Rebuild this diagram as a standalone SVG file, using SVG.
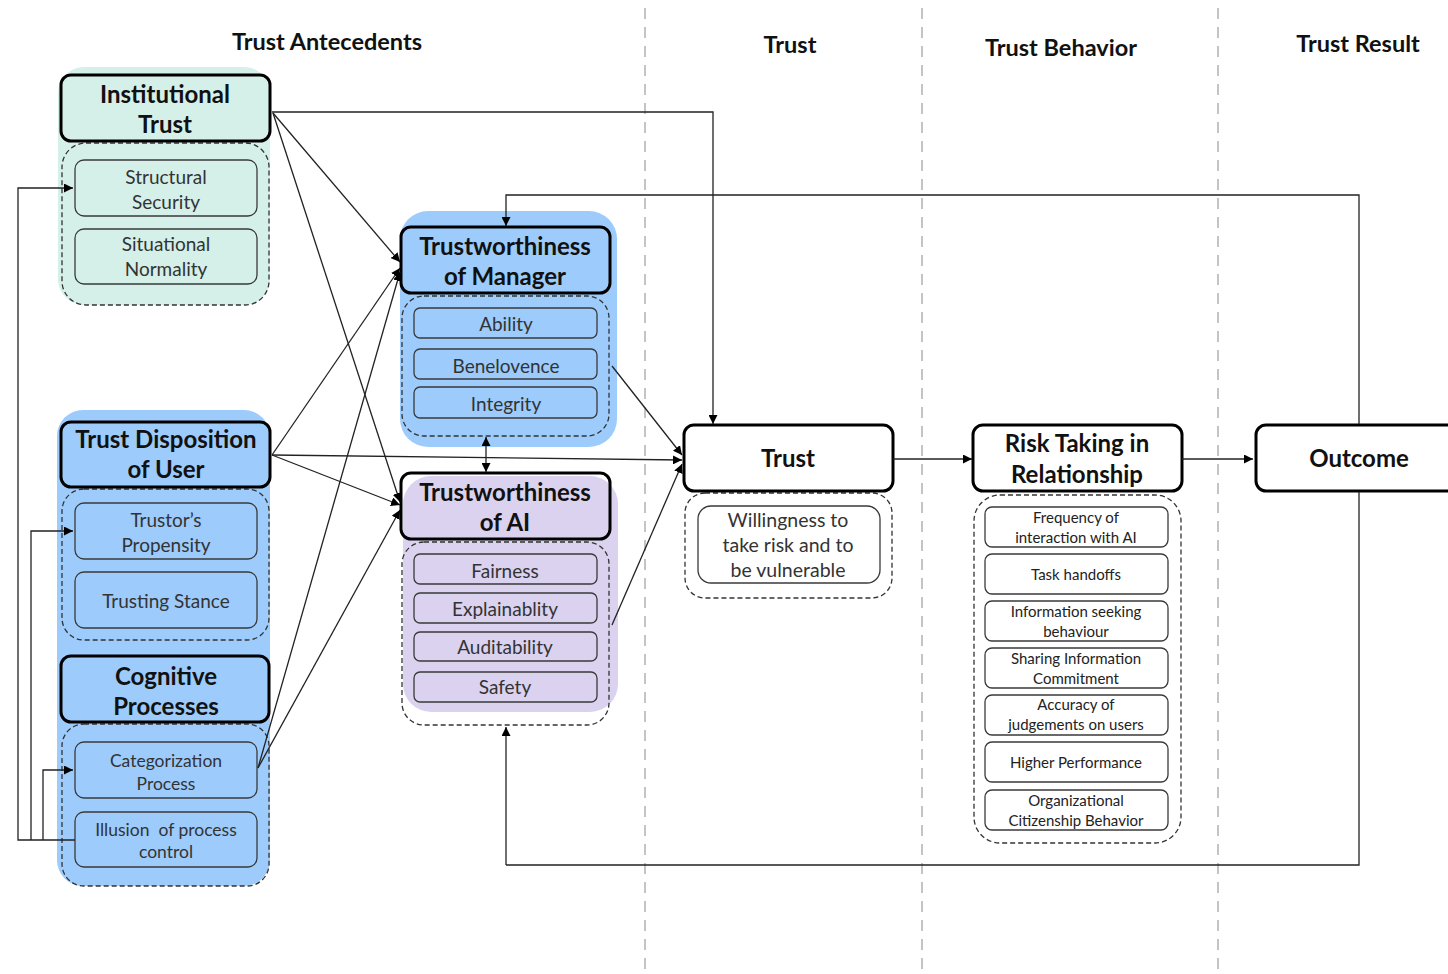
<svg xmlns="http://www.w3.org/2000/svg" width="1448" height="974" viewBox="0 0 1448 974">
<defs>
<marker id="ah" viewBox="0 0 10 10" refX="10" refY="5" markerWidth="9" markerHeight="9" markerUnits="userSpaceOnUse" orient="auto-start-reverse">
<path d="M0,0 L10,5 L0,10 z" fill="#000"/>
</marker>
<style>
text{font-family:Lato,"Open Sans","Liberation Sans",sans-serif;text-anchor:middle;dominant-baseline:central}
.h{font-weight:bold;font-size:24px;fill:#111}
.col{font-weight:bold;font-size:23.5px;fill:#111}
.t{font-size:19px;fill:#333}
.s{font-size:15px;fill:#222}
.hb{stroke:#000;stroke-width:3;fill:none}
.ib{stroke:#3a3a3a;stroke-width:1.3;fill:none}
.dc{stroke:#333;stroke-width:1.3;stroke-dasharray:5 3;fill:none}
.sep{stroke:#c4c4c4;stroke-width:2;stroke-dasharray:11 8}
.c{stroke:#222;stroke-width:1.3;fill:none}
.a{marker-end:url(#ah)}
</style>
</defs>
<rect width="1448" height="974" fill="#fff"/>
<g id="separators">
<line class="sep" x1="645" y1="8" x2="645" y2="974"/>
<line class="sep" x1="922" y1="8" x2="922" y2="974"/>
<line class="sep" x1="1218" y1="8" x2="1218" y2="974"/>
</g>
<g id="column-headers">
<text class="col" x="327" y="41">Trust Antecedents</text>
<text class="col" x="790" y="44">Trust</text>
<text class="col" x="1061" y="47">Trust Behavior</text>
<text class="col" x="1358" y="43">Trust Result</text>
</g>
<g id="institutional-trust">
<rect x="58" y="67" width="212" height="238" rx="26" fill="#d5efe9"/>
<rect class="dc" x="62" y="143" width="207" height="162" rx="24"/>
<rect x="61" y="75" width="209" height="66" rx="10" fill="#d5efe9" class="hb"/>
<text class="h" x="165" y="93">Institutional</text>
<text class="h" x="165" y="123">Trust</text>
<rect class="ib" x="75" y="160" width="182" height="56" rx="9"/>
<text class="t" x="166" y="176">Structural</text>
<text class="t" x="166" y="201">Security</text>
<rect class="ib" x="75" y="229" width="182" height="55" rx="9"/>
<text class="t" x="166" y="243">Situational</text>
<text class="t" x="166" y="268">Normality</text>
</g>
<g id="trust-disposition">
<rect x="57" y="410" width="213" height="476" rx="26" fill="#9ccbfc"/>
<rect class="dc" x="62" y="489" width="207" height="151" rx="22"/>
<rect x="61" y="422" width="209" height="65" rx="10" fill="#9ccbfc" class="hb"/>
<text class="h" x="166" y="438">Trust Disposition</text>
<text class="h" x="166" y="468">of User</text>
<rect class="ib" x="75" y="503" width="182" height="56" rx="9"/>
<text class="t" x="166" y="519">Trustor’s</text>
<text class="t" x="166" y="544">Propensity</text>
<rect class="ib" x="75" y="572" width="182" height="56" rx="9"/>
<text class="t" x="166" y="600">Trusting Stance</text>
</g>
<g id="cognitive-processes">
<rect class="dc" x="62" y="724" width="207" height="162" rx="22"/>
<rect x="61" y="656" width="208" height="66" rx="10" fill="#9ccbfc" class="hb"/>
<text class="h" x="166" y="675">Cognitive</text>
<text class="h" x="166" y="705">Processes</text>
<rect class="ib" x="75" y="742" width="182" height="56" rx="9"/>
<text class="t" x="166" y="760" style="font-size:17.5px">Categorization</text>
<text class="t" x="166" y="783" style="font-size:17.5px">Process</text>
<rect class="ib" x="75" y="812" width="182" height="55" rx="9"/>
<text class="t" x="166" y="829" style="font-size:17.5px">Illusion&#160; of process</text>
<text class="t" x="166" y="851" style="font-size:17.5px">control</text>
</g>
<g id="trustworthiness-manager">
<rect x="400" y="211" width="217" height="236" rx="28" fill="#9ccbfc"/>
<rect class="dc" x="402" y="296" width="207" height="140" rx="22"/>
<rect x="401" y="227" width="209" height="66" rx="10" fill="#9ccbfc" class="hb"/>
<text class="h" x="505" y="245">Trustworthiness</text>
<text class="h" x="505" y="275">of Manager</text>
<rect class="ib" x="414" y="308" width="183" height="30" rx="6"/>
<text class="t" x="506" y="323">Ability</text>
<rect class="ib" x="414" y="349" width="183" height="30" rx="6"/>
<text class="t" x="506" y="365">Benelovence</text>
<rect class="ib" x="414" y="387" width="183" height="31" rx="6"/>
<text class="t" x="506" y="403">Integrity</text>
</g>
<g id="trustworthiness-ai">
<rect x="403" y="476" width="215" height="236" rx="28" fill="#dad2ef"/>
<rect class="dc" x="402" y="542" width="207" height="183" rx="22"/>
<rect x="401" y="473" width="209" height="66" rx="10" fill="#dad2ef" class="hb"/>
<text class="h" x="505" y="491">Trustworthiness</text>
<text class="h" x="505" y="521">of AI</text>
<rect class="ib" x="414" y="554" width="183" height="30" rx="6"/>
<text class="t" x="505" y="570">Fairness</text>
<rect class="ib" x="414" y="593" width="183" height="30" rx="6"/>
<text class="t" x="505" y="608">Explainablity</text>
<rect class="ib" x="414" y="632" width="183" height="29" rx="6"/>
<text class="t" x="505" y="646">Auditability</text>
<rect class="ib" x="414" y="672" width="183" height="30" rx="6"/>
<text class="t" x="505" y="686">Safety</text>
</g>
<g id="trust">
<rect class="dc" x="685" y="493" width="207" height="105" rx="20"/>
<rect x="684" y="425" width="209" height="66" rx="10" fill="#fff" class="hb"/>
<text class="h" x="788" y="457">Trust</text>
<rect class="ib" x="698" y="506" width="182" height="77" rx="13"/>
<text class="t" x="788" y="519" style="font-size:19.5px">Willingness to</text>
<text class="t" x="788" y="544" style="font-size:19.5px">take risk and to</text>
<text class="t" x="788" y="569" style="font-size:19.5px">be vulnerable</text>
</g>
<g id="risk-taking">
<rect class="dc" x="974" y="495" width="207" height="348" rx="26"/>
<rect x="973" y="425" width="209" height="66" rx="10" fill="#fff" class="hb"/>
<text class="h" x="1077" y="442">Risk Taking in</text>
<text class="h" x="1077" y="473">Relationship</text>
<rect class="ib" x="985" y="507" width="183" height="40" rx="7"/>
<text class="s" x="1076" y="517">Frequency of</text>
<text class="s" x="1076" y="537">interaction with AI</text>
<rect class="ib" x="985" y="554" width="183" height="40" rx="7"/>
<text class="s" x="1076" y="574">Task handoffs</text>
<rect class="ib" x="985" y="601" width="183" height="40" rx="7"/>
<text class="s" x="1076" y="611">Information seeking</text>
<text class="s" x="1076" y="631">behaviour</text>
<rect class="ib" x="985" y="648" width="183" height="40" rx="7"/>
<text class="s" x="1076" y="658">Sharing Information</text>
<text class="s" x="1076" y="678">Commitment</text>
<rect class="ib" x="985" y="695" width="183" height="40" rx="7"/>
<text class="s" x="1076" y="704">Accuracy of</text>
<text class="s" x="1076" y="724">judgements on users</text>
<rect class="ib" x="985" y="742" width="183" height="40" rx="7"/>
<text class="s" x="1076" y="762">Higher Performance</text>
<rect class="ib" x="985" y="790" width="183" height="40" rx="7"/>
<text class="s" x="1076" y="800">Organizational</text>
<text class="s" x="1076" y="820">Citizenship Behavior</text>
</g>
<g id="outcome">
<rect x="1256" y="425" width="210" height="66" rx="10" fill="#fff" class="hb"/>
<text class="h" x="1359" y="457">Outcome</text>
</g>
<g id="connectors">
<polyline class="c a" points="272,112 713,112 713,424"/>
<polyline class="c" points="506,865 1359,865 1359,492"/>
<polyline class="c a" points="1359,424 1359,195 506,195 506,226"/>
<line class="c a" x1="506" y1="865" x2="506" y2="727"/>
<polyline class="c a" points="75,840 18,840 18,188 73,188"/>
<polyline class="c a" points="31,840 31,531 73,531"/>
<polyline class="c a" points="43,840 43,770 73,770"/>
<line class="c a" x1="273" y1="113" x2="400" y2="262"/>
<line class="c a" x1="273" y1="113" x2="400" y2="502"/>
<line class="c a" x1="272" y1="455" x2="400" y2="268"/>
<line class="c a" x1="272" y1="455" x2="682" y2="460"/>
<line class="c a" x1="272" y1="455" x2="400" y2="505"/>
<line class="c a" x1="258" y1="768" x2="400" y2="272"/>
<line class="c a" x1="258" y1="768" x2="400" y2="510"/>
<line class="c a" x1="486" y1="452" x2="486" y2="437"/>
<line class="c a" x1="486" y1="452" x2="486" y2="472"/>
<line class="c a" x1="612" y1="366" x2="682" y2="455"/>
<line class="c a" x1="612" y1="625" x2="682" y2="464"/>
<line class="c a" x1="893" y1="459" x2="972" y2="459"/>
<line class="c a" x1="1182" y1="459" x2="1253" y2="459"/>
</g>
</svg>
